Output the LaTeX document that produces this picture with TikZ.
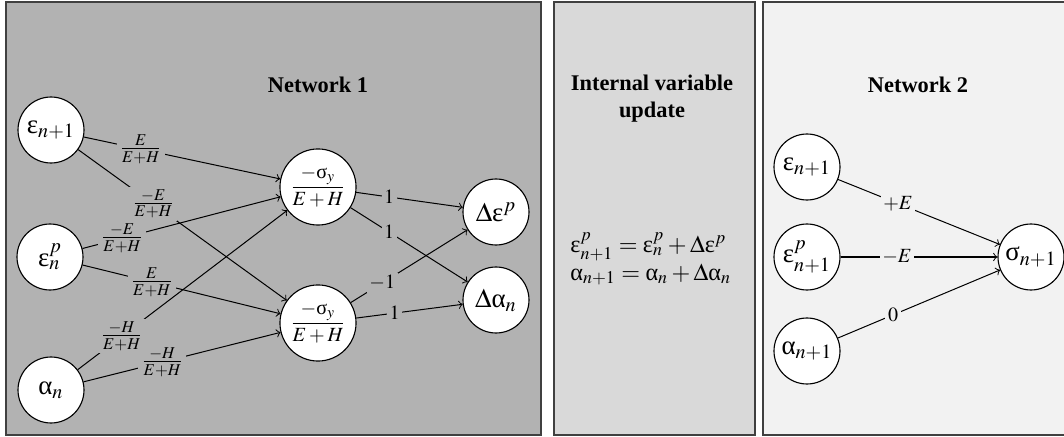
\documentclass[tikz,border=0pt]{standalone}
\usepackage{amsmath}
\usepackage{mathptmx}
\usepackage[no-math]{fontspec}
\setmainfont{Liberation Serif}
\newcommand{\geps}{\text{ε}}
\newcommand{\galpha}{\text{α}}
\newcommand{\gsigma}{\text{σ}}
\definecolor{pone}{gray}{0.70}
\definecolor{ptwo}{gray}{0.85}
\definecolor{pthree}{gray}{0.95}
\tikzset{
  neuron/.style={circle, draw=black, fill=white, line width=0.5pt, inner sep=0pt, minimum size=29.5pt, font=\large},
  bigneuron/.style={neuron, minimum size=34pt, font=\small},
  lab/.style={inner sep=1.2pt, font=\small},
  fraclab/.style={inner sep=1.2pt, font=\normalsize},
  conn/.style={->, line width=0.45pt},
  panel/.style={draw=black!75, line width=0.9pt},
  title/.style={font=\bfseries, align=center}
}
\begin{document}
\begin{tikzpicture}[x=0.447pt, y=-0.447pt]
\useasboundingbox (0,0) rectangle (1064,437);
% panels
\path[panel, fill=pone] (6,2) rectangle (541,435);
\path[panel, fill=ptwo] (554,2) rectangle (755,435);
\path[panel, fill=pthree] (763,2) rectangle (1075,435);

% ---------- Network 1 ----------
\node[title] (t1) at (318,85) {Network 1};
\node[neuron] (e1) at (51,130) {$\geps_{n+1}$};
\node[neuron] (ep) at (50,257) {$\geps^p_n$};
\node[neuron] (an) at (51,390) {$\galpha_n$};
\node[bigneuron] (h1) at (318,187) {$\dfrac{-\gsigma_y}{E+H}$};
\node[bigneuron] (h2) at (318,323) {$\dfrac{-\gsigma_y}{E+H}$};
\node[neuron] (o1) at (496,212) {$\Delta\geps^p$};
\node[neuron] (o2) at (496,300) {$\Delta\galpha_n$};

\draw[conn] (e1) -- (h1) node[fraclab, fill=pone, pos=0.29] {$\frac{E}{E+H}$};
\draw[conn] (e1) -- (h2) node[fraclab, fill=pone, pos=0.36] {$\frac{-E}{E+H}$};
\draw[conn] (ep) -- (h1) node[fraclab, fill=pone, pos=0.2] {$\frac{-E}{E+H}$};
\draw[conn] (ep) -- (h2) node[fraclab, fill=pone, pos=0.35] {$\frac{E}{E+H}$};
\draw[conn] (an) -- (h1) node[fraclab, fill=pone, pos=0.21] {$\frac{-H}{E+H}$};
\draw[conn] (an) -- (h2) node[fraclab, fill=pone, pos=0.4] {$\frac{-H}{E+H}$};

\draw[conn] (h1) -- (o1) node[lab, fill=pone, pos=0.31] {$1$};
\draw[conn] (h1) -- (o2) node[lab, fill=pone, pos=0.33] {$1$};
\draw[conn] (h2) -- (o1) node[lab, fill=pone, pos=0.27] {$-1$};
\draw[conn] (h2) -- (o2) node[lab, fill=pone, pos=0.36] {$1$};

% ---------- Internal variable update ----------
\node[title] (t2) at (652,99) {Internal variable\\update};
\node[align=left, anchor=west, inner sep=0pt, font=\fontsize{10.8}{11}\selectfont] (eq) at (570,259)
  {$\geps^p_{n+1} = \geps^p_n + \Delta\geps^p$\\
   $\galpha_{n+1} = \galpha_n + \Delta\galpha_n$};

% ---------- Network 2 ----------
\node[title] (t3) at (918,85) {Network 2};
\node[neuron] (m1) at (807,167) {$\geps_{n+1}$};
\node[neuron] (m2) at (807,257) {$\geps^p_{n+1}$};
\node[neuron] (m3) at (807,351) {$\galpha_{n+1}$};
\node[neuron] (s) at (1031,257) {$\gsigma_{n+1}$};

\draw[conn] (m1) -- (s) node[lab, fill=pthree, pos=0.37] {$+E$};
\draw[conn] (m2) -- (s) node[lab, fill=pthree, pos=0.36] {$-E$};
\draw[conn] (m3) -- (s) node[lab, fill=pthree, pos=0.34] {$0$};
\end{tikzpicture}
\end{document}
